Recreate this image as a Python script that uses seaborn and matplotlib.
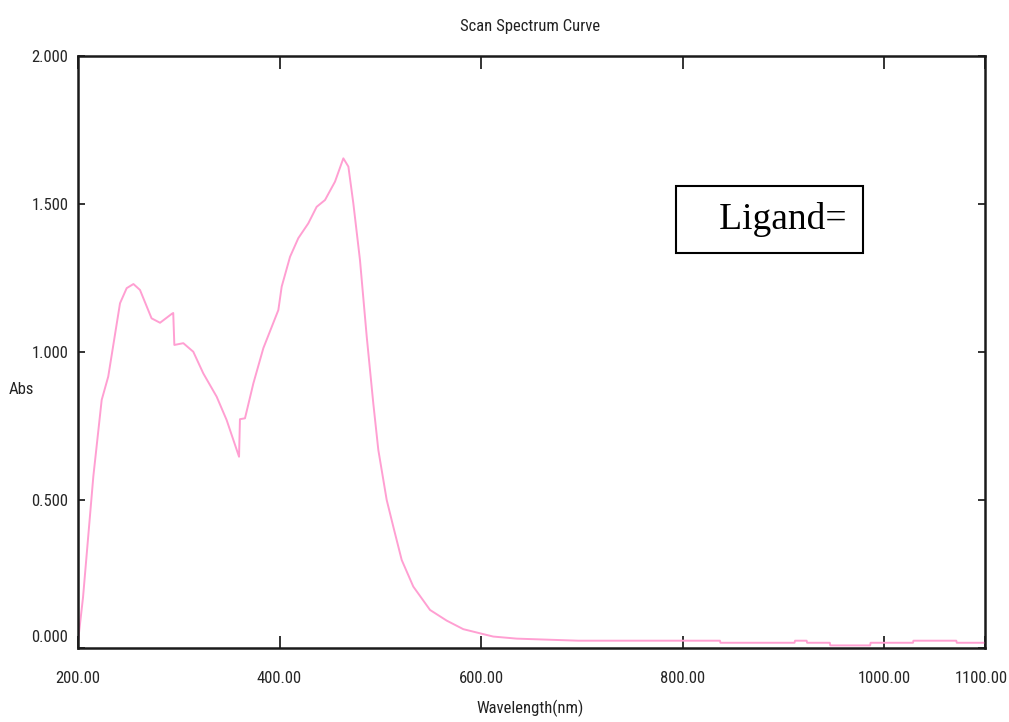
import matplotlib
matplotlib.use("Agg")
import matplotlib.pyplot as plt
import matplotlib.transforms as mtransforms
from matplotlib import font_manager
import seaborn as sns
import pandas as pd

# Absorbance scan of the ligand solution
wavelength_nm = [200, 205, 215.2, 223.5, 230, 241.7, 248.3, 255, 261.5, 273, 281.4,
                 293, 294.5, 295.6, 304.5, 314.4, 324.3, 337.6, 347.5, 359.8, 360.7,
                 365.7, 374, 383.9, 398.8, 402.1, 410.4, 418.6, 428.5, 436.8, 445.1,
                 455, 463.3, 468.3, 473.2, 479.8, 486.5, 493, 498, 506.3, 512.9,
                 521.2, 532.7, 549.3, 565.8, 582.3, 598.9, 612, 635.3, 696.4, 797,
                 837, 837.5, 911, 911.5, 923, 923.5, 946, 946.5, 986, 986.5,
                 1028.5, 1029, 1071.5, 1072, 1100]
absorbance = [0.02, 0.17, 0.578, 0.837, 0.916, 1.164, 1.215, 1.229, 1.209, 1.113, 1.098,
              1.128, 1.131, 1.023, 1.029, 1.000, 0.927, 0.848, 0.769, 0.645, 0.772,
              0.775, 0.893, 1.012, 1.141, 1.220, 1.321, 1.384, 1.434, 1.490, 1.513,
              1.575, 1.654, 1.626, 1.502, 1.310, 1.051, 0.826, 0.668, 0.499, 0.408,
              0.296, 0.206, 0.127, 0.091, 0.062, 0.048, 0.037, 0.030, 0.023, 0.023,
              0.023, 0.016, 0.016, 0.023, 0.023, 0.016, 0.016, 0.007, 0.007, 0.016,
              0.016, 0.023, 0.023, 0.016, 0.016]

x_ticks = [200, 400, 600, 800, 1000, 1100]
x_tick_labels = ["200.00", "400.00", "600.00", "800.00", "1000.00", "1100.00"]
y_ticks = [0.0, 0.5, 1.0, 1.5, 2.0]
y_tick_labels = ["0.000", "0.500", "1.000", "1.500", "2.000"]

sns.set_style("white")

available = {f.name for f in font_manager.fontManager.ttflist}
narrow_candidates = ["Liberation Sans Narrow", "DejaVu Sans Condensed", "Roboto Condensed"]
families = [f for f in narrow_candidates if f in available] + ["Liberation Sans", "DejaVu Sans"]
plt.rcParams["font.family"] = families

df = pd.DataFrame({"Wavelength": wavelength_nm, "Abs": absorbance})

fig = plt.figure(figsize=(10.09, 7.22), dpi=100)
ax = fig.add_axes([78 / 1009, 1 - 647.5 / 722, (985 - 78) / 1009, (647.5 - 56) / 722])

sns.lineplot(data=df, x="Wavelength", y="Abs", ax=ax, sort=False, estimator=None,
             color="#ff9fd2", linewidth=1.4)

ax.set_xlim(200, 1100)
ax.set_ylim(0, 2.0)
ax.set_xticks(x_ticks)
ax.set_xticklabels(x_tick_labels, fontsize=12)
ax.set_yticks(y_ticks)
ax.set_yticklabels(y_tick_labels, fontsize=12)

ax.tick_params(axis="x", direction="in", length=9, width=1.2, color="#111111",
               top=True, bottom=True, pad=17)
ax.tick_params(axis="y", direction="in", length=5, width=1.2, color="#111111",
               left=True, right=True, pad=7)

# keep the lowest y label and the last x label inside the figure
zero_lbl = ax.get_yticklabels()[0]
zero_lbl.set_transform(zero_lbl.get_transform() +
                       mtransforms.ScaledTranslation(0, 12 / 100, fig.dpi_scale_trans))
last_lbl = ax.get_xticklabels()[-1]
last_lbl.set_transform(last_lbl.get_transform() +
                       mtransforms.ScaledTranslation(-4 / 100, 0, fig.dpi_scale_trans))

for side in ["left", "right", "top", "bottom"]:
    ax.spines[side].set_visible(True)
    ax.spines[side].set_color("#1a1a1a")
    ax.spines[side].set_linewidth(1.8)

ax.set_xlabel("")
ax.set_ylabel("")
fig.text(530 / 1009, 1 - 27 / 722, "Scan Spectrum Curve", ha="center", va="center",
         fontsize=12, color="#222222")
fig.text(530 / 1009, 1 - 708 / 722, "Wavelength(nm)", ha="center", va="center",
         fontsize=12, color="#222222")
fig.text(21 / 1009, 1 - 390 / 722, "Abs", ha="center", va="center",
         fontsize=12, color="#222222")

ax.text(0.762, 0.724, "   Ligand=", transform=ax.transAxes, ha="center", va="center",
        fontsize=27, family=["Liberation Serif", "DejaVu Serif"], color="black",
        bbox=dict(boxstyle="square,pad=0.42", facecolor="white", edgecolor="black",
                  linewidth=1.5))

fig.savefig("out.png", dpi=100)
